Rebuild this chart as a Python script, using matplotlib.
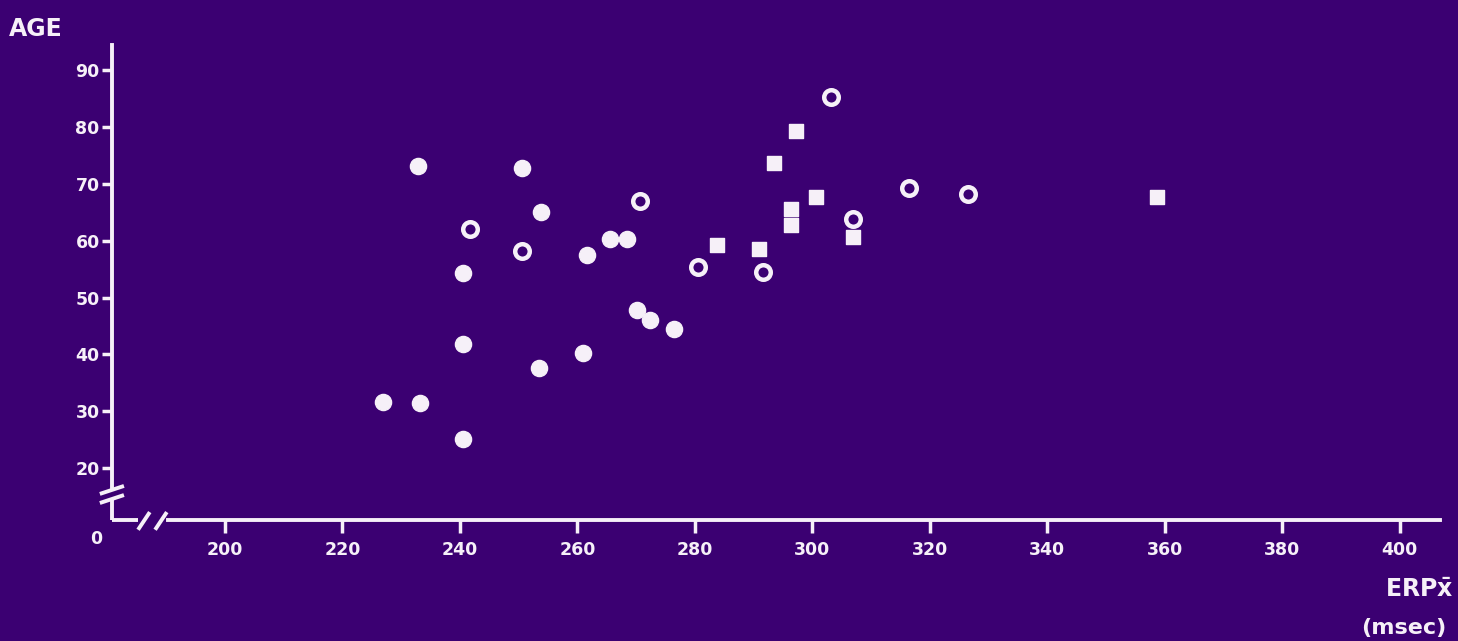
import matplotlib
matplotlib.use("Agg")
import matplotlib.pyplot as plt

# ERP latency (msec) vs age, three groups
solid_x = [226.9, 233.2, 232.9, 240.5, 240.5, 240.5, 250.6, 253.8, 253.5,
           260.9, 261.6, 265.5, 268.4, 270.1, 272.3, 276.4]
solid_age = [31.7, 31.5, 73.1, 25.1, 41.8, 54.3, 72.8, 65.0, 37.6,
             40.3, 57.5, 60.3, 60.3, 47.8, 46.1, 44.5]

open_x = [241.7, 250.6, 270.6, 280.5, 291.6, 303.1, 306.9, 316.4, 326.5]
open_age = [62.1, 58.2, 67.0, 55.4, 54.5, 85.3, 63.8, 69.3, 68.2]

square_x = [283.7, 290.9, 293.4, 297.2, 296.3, 296.3, 300.6, 306.9, 358.6]
square_age = [59.2, 58.5, 73.7, 79.3, 65.6, 62.8, 67.7, 60.6, 67.7]

x_ticks = [200, 220, 240, 260, 280, 300, 320, 340, 360, 380, 400]
y_ticks = [20, 30, 40, 50, 60, 70, 80, 90]

bg = "#3b0072"
fg = "#f6f0f8"

fig = plt.figure(figsize=(14.58, 6.41), dpi=100, facecolor=bg)
ax = fig.add_axes([0, 0, 1, 1], facecolor=bg)
ax.set_xlim(161.7, 409.9)
ax.set_ylim(-10.35, 102.3)

# axis origin (broken axes)
x0, y0 = 180.8, 10.9
for s in ["top", "right"]:
    ax.spines[s].set_visible(False)
ax.spines["left"].set_position(("data", x0))
ax.spines["bottom"].set_position(("data", y0))
ax.spines["left"].set_bounds(16.7, 94.4)
ax.spines["bottom"].set_bounds(190.3, 406.8)
for s in ["left", "bottom"]:
    ax.spines[s].set_color(fg)
    ax.spines[s].set_linewidth(2.8)

lw = dict(color=fg, lw=2.8, solid_capstyle="butt")
ax.plot([x0, x0], [y0, 14.4], **lw)
ax.plot([x0, 185.2], [y0, y0], **lw)
# break marks
ax.plot([178.7, 182.8], [15.5, 16.9], **lw)
ax.plot([178.7, 182.8], [13.9, 15.3], **lw)
ax.plot([185.2, 187.2], [9.2, 12.3], **lw)
ax.plot([188.1, 190.1], [9.2, 12.3], **lw)

ax.set_xticks(x_ticks)
ax.set_yticks(y_ticks)
ax.tick_params(axis="both", colors=fg, width=2.5, labelsize=12.5)
ax.tick_params(axis="x", length=9, pad=6)
ax.tick_params(axis="y", length=7, pad=2)
for lab in ax.get_xticklabels() + ax.get_yticklabels():
    lab.set_fontweight("bold")

ax.scatter(solid_x, solid_age, s=135, marker="o", color=fg, zorder=3)
ax.scatter(open_x, open_age, s=110, marker="o", facecolors=bg,
           edgecolors=fg, linewidths=3.2, zorder=3)
ax.scatter(square_x, square_age, s=105, marker="s", color=fg, zorder=3)

ax.text(0.006, 0.955, "AGE", transform=ax.transAxes, color=fg,
        fontsize=17, fontweight="heavy", ha="left", va="center")
ax.text(178.0, 7.6, "0", color=fg, fontsize=12.5, fontweight="bold",
        ha="center", va="center")
ax.text(0.997, 0.08, r"ERP$\mathbf{\bar{x}}$", transform=ax.transAxes,
        color=fg, fontsize=17, fontweight="bold", ha="right", va="center")
ax.text(0.992, 0.02, "(msec)", transform=ax.transAxes, color=fg,
        fontsize=16, fontweight="bold", ha="right", va="center")

fig.savefig("out.png", dpi=100, facecolor=bg)
